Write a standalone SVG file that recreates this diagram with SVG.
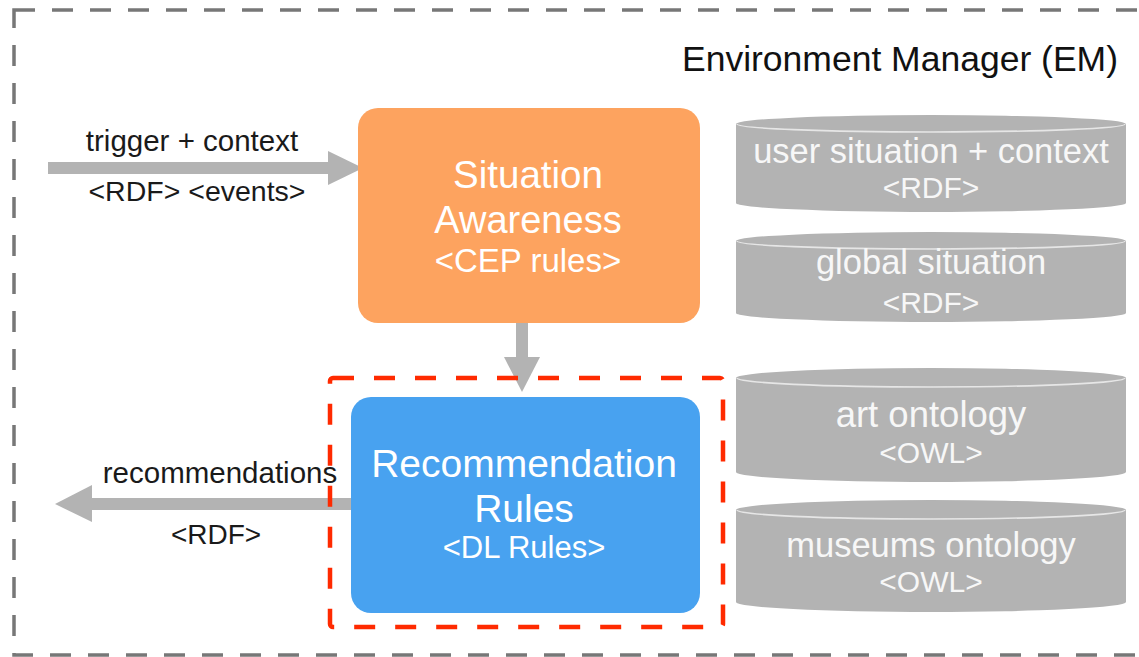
<svg xmlns="http://www.w3.org/2000/svg" width="1139" height="657" viewBox="0 0 1139 657">
<style>
text{font-family:"Liberation Sans",Arial,Helvetica,sans-serif;}
.lbl{fill:#1a1a1a;text-anchor:middle;}
.wt{fill:#ffffff;text-anchor:middle;}
.cyl{fill:#b3b3b3;}
.rim{fill:none;stroke:#e6e6e6;stroke-width:1.6;}
.ctext{fill:#f7f7f7;text-anchor:middle;}
.arrow{fill:#b3b3b3;}
</style>
<rect width="1139" height="657" fill="#ffffff"/>
<g id="environment-manager">
<rect x="14" y="10" width="1150" height="645" fill="none" stroke="#777777" stroke-width="3.5" stroke-dasharray="21 17"/>
<text x="1118" y="71" font-size="35.5" fill="#111" text-anchor="end">Environment Manager (EM)</text>
</g>
<g id="connectors">
<g id="in-arrow">
<rect class="arrow" x="48" y="162" width="282" height="12"/>
<polygon class="arrow" points="328,151 363,168 328,185"/>
<text class="lbl" x="192" y="151" font-size="29.5">trigger + context</text>
<text class="lbl" x="197" y="201" font-size="28.5">&lt;RDF&gt; &lt;events&gt;</text>
</g>
<g id="down-arrow">
<rect class="arrow" x="516" y="318" width="12" height="40"/>
<polygon class="arrow" points="504,357 540,357 522,392"/>
</g>
<g id="out-arrow">
<rect class="arrow" x="90" y="498" width="262" height="12"/>
<polygon class="arrow" points="92,485 55,504 92,522"/>
<text class="lbl" x="220" y="483" font-size="29.5">recommendations</text>
<text class="lbl" x="216" y="544" font-size="28">&lt;RDF&gt;</text>
</g>
</g>
<g id="situation-awareness">
<rect x="358" y="108" width="342" height="215" rx="20" fill="#fda35f"/>
<text class="wt" x="528" y="188" font-size="38.5">Situation</text>
<text class="wt" x="528" y="233" font-size="38">Awareness</text>
<text class="wt" x="528" y="272" font-size="33">&lt;CEP rules&gt;</text>
</g>
<g id="recommendation-rules">
<rect x="351" y="397" width="349" height="216" rx="20" fill="#48a2f0"/>
<text class="wt" x="524" y="477" font-size="39">Recommendation</text>
<text class="wt" x="524" y="522" font-size="39">Rules</text>
<text class="wt" x="524" y="558" font-size="31">&lt;DL Rules&gt;</text>
</g>
<g id="highlight">
<rect x="330" y="378" width="393" height="249" rx="3" fill="none" stroke="#ff2a00" stroke-width="4.5" stroke-dasharray="21 20"/>
</g>
<g id="user-situation">
<path class="cyl" d="M736,124 A195,9 0 0 1 1126,124 L1126,203 A195,9 0 0 1 736,203 Z"/>
<path class="rim" d="M737,124 A194,8 0 0 0 1125,124"/>
<text class="ctext" x="931" y="163" font-size="34.5">user situation + context</text>
<text class="ctext" x="931" y="198" font-size="30">&lt;RDF&gt;</text>
</g>
<g id="global-situation">
<path class="cyl" d="M736,241 A195,9 0 0 1 1126,241 L1126,313 A195,9 0 0 1 736,313 Z"/>
<path class="rim" d="M737,241 A194,8 0 0 0 1125,241"/>
<text class="ctext" x="931" y="274" font-size="34.5">global situation</text>
<text class="ctext" x="931" y="313" font-size="30">&lt;RDF&gt;</text>
</g>
<g id="art-ontology">
<path class="cyl" d="M736,378 A195,10 0 0 1 1126,378 L1126,472 A195,10 0 0 1 736,472 Z"/>
<path class="rim" d="M737,378 A194,9 0 0 0 1125,378"/>
<text class="ctext" x="931" y="427" font-size="36.5">art ontology</text>
<text class="ctext" x="931" y="463" font-size="30">&lt;OWL&gt;</text>
</g>
<g id="museums-ontology">
<path class="cyl" d="M736,510 A195,10 0 0 1 1126,510 L1126,602 A195,10 0 0 1 736,602 Z"/>
<path class="rim" d="M737,510 A194,9 0 0 0 1125,510"/>
<text class="ctext" x="931" y="557" font-size="34.5">museums ontology</text>
<text class="ctext" x="931" y="592" font-size="30">&lt;OWL&gt;</text>
</g>
</svg>
